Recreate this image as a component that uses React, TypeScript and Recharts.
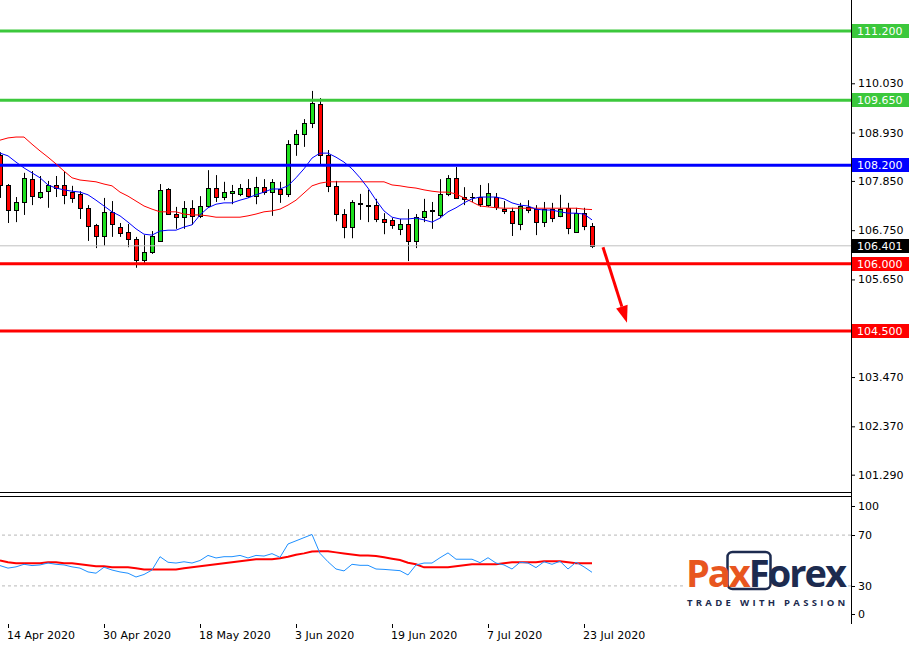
import React from "react";
import { Bar, ComposedChart, Line, ReferenceLine, XAxis, YAxis } from "recharts";

// daily bars, 13 Apr 2020 .. 24 Jul 2020
const dates = [
  "13 Apr", "14 Apr", "15 Apr", "16 Apr", "17 Apr", "20 Apr", "21 Apr", "22 Apr", "23 Apr", "24 Apr",
  "27 Apr", "28 Apr", "29 Apr", "30 Apr", "1 May", "4 May", "5 May", "6 May", "7 May", "8 May",
  "11 May", "12 May", "13 May", "14 May", "15 May", "18 May", "19 May", "20 May", "21 May", "22 May",
  "25 May", "26 May", "27 May", "28 May", "29 May", "1 Jun", "2 Jun", "3 Jun", "4 Jun", "5 Jun",
  "8 Jun", "9 Jun", "10 Jun", "11 Jun", "12 Jun", "15 Jun", "16 Jun", "17 Jun", "18 Jun", "19 Jun",
  "22 Jun", "23 Jun", "24 Jun", "25 Jun", "26 Jun", "29 Jun", "30 Jun", "1 Jul", "2 Jul", "3 Jul",
  "6 Jul", "7 Jul", "8 Jul", "9 Jul", "10 Jul", "13 Jul", "14 Jul", "15 Jul", "16 Jul", "17 Jul",
  "20 Jul", "21 Jul", "22 Jul", "23 Jul", "24 Jul",
];

const opens = [
  108.43, 107.76, 107.2, 107.38, 107.89, 107.49, 107.62, 107.76, 107.76, 107.6,
  107.56, 107.25, 106.87, 106.62, 107.16, 106.82, 106.71, 106.55, 106.08, 106.26,
  106.51, 107.67, 107.11, 107.04, 107.25, 107.07, 107.29, 107.69, 107.49, 107.58,
  107.56, 107.69, 107.51, 107.71, 107.6, 107.67, 107.56, 108.67, 108.9, 109.14,
  109.57, 108.43, 107.74, 107.11, 106.82, 107.33, 107.31, 107.31, 107.0, 106.98,
  106.78, 106.89, 106.51, 107.04, 107.18, 107.09, 107.56, 107.92, 107.49, 107.49,
  107.49, 107.31, 107.49, 107.22, 107.18, 106.89, 107.27, 107.22, 106.93, 107.22,
  107.07, 107.25, 106.71, 107.13, 106.84,
];
const highs = [
  108.49, 107.78, 107.49, 108.03, 108.07, 107.96, 107.85, 107.96, 108.05, 107.74,
  107.62, 107.31, 106.89, 107.47, 107.4, 106.91, 106.89, 106.6, 106.64, 106.73,
  107.78, 107.69, 107.27, 107.4, 107.42, 107.51, 108.09, 107.98, 107.83, 107.76,
  107.78, 107.89, 107.94, 107.89, 107.89, 107.83, 108.76, 108.99, 109.23, 109.86,
  109.7, 108.54, 107.85, 107.22, 107.42, 107.56, 107.65, 107.45, 107.13, 107.02,
  107.0, 107.22, 107.11, 107.45, 107.38, 107.89, 107.98, 108.16, 107.71, 107.58,
  107.76, 107.8, 107.58, 107.4, 107.25, 107.36, 107.42, 107.31, 107.38, 107.36,
  107.54, 107.36, 107.25, 107.25, 106.91,
];
const lows = [
  107.47, 106.91, 106.93, 107.09, 107.31, 107.45, 107.25, 107.49, 107.33, 107.36,
  107.0, 106.51, 106.35, 106.4, 106.6, 106.6, 106.37, 105.91, 105.99, 106.22,
  106.49, 107.09, 106.78, 106.78, 106.87, 107.02, 107.25, 107.38, 107.42, 107.33,
  107.51, 107.47, 107.33, 107.54, 107.07, 107.36, 107.49, 108.41, 108.61, 109.03,
  108.21, 107.6, 106.95, 106.57, 106.57, 106.98, 106.93, 106.93, 106.66, 106.78,
  106.64, 106.06, 106.35, 106.93, 106.78, 107.02, 107.51, 107.45, 107.31, 107.38,
  107.27, 107.27, 107.2, 107.11, 106.62, 106.75, 107.13, 106.64, 106.82, 106.93,
  107.04, 106.66, 106.69, 106.75, 106.35,
];
const closes = [
  107.76, 107.2, 107.38, 107.92, 107.51, 107.6, 107.76, 107.69, 107.54, 107.47,
  107.25, 106.84, 106.62, 107.16, 106.89, 106.69, 106.55, 106.08, 106.26, 106.62,
  107.65, 107.11, 107.04, 107.25, 107.07, 107.29, 107.69, 107.49, 107.6, 107.62,
  107.69, 107.51, 107.71, 107.6, 107.83, 107.56, 108.67, 108.9, 109.14, 109.59,
  108.43, 107.74, 107.11, 106.82, 107.38, 107.35, 107.3, 107.0, 106.93, 106.87,
  106.89, 106.51, 107.04, 107.18, 107.19, 107.56, 107.92, 107.47, 107.45, 107.5,
  107.33, 107.58, 107.27, 107.18, 106.91, 107.29, 107.2, 106.93, 107.22, 107.02,
  107.22, 106.8, 107.13, 106.84, 106.401,
];

// moving averages as drawn on the chart (blue fast, red slow)
const maFast = [
  108.47, 108.41, 108.27, 108.14, 108.03, 107.92, 107.76, 107.69, 107.65, 107.62,
  107.6, 107.54, 107.42, 107.29, 107.16, 107.07, 106.93, 106.78, 106.66, 106.64,
  106.73, 106.75, 106.75, 106.82, 106.87, 107.09, 107.25, 107.33, 107.36, 107.36,
  107.42, 107.47, 107.54, 107.6, 107.67, 107.67, 107.74, 107.92, 108.12, 108.36,
  108.47, 108.47, 108.38, 108.27, 108.12, 107.92, 107.69, 107.42, 107.18, 107.04,
  107.0, 107.0, 107.02, 106.98, 106.93, 107.02, 107.16, 107.25, 107.36, 107.45,
  107.49, 107.49, 107.49, 107.45, 107.36, 107.31, 107.29, 107.22, 107.2, 107.2,
  107.16, 107.13, 107.13, 107.11, 106.98,
];
const maSlow = [
  108.76, 108.81, 108.83, 108.83, 108.67, 108.52, 108.38, 108.23, 108.07, 107.92,
  107.87, 107.85, 107.83, 107.78, 107.74, 107.6, 107.51, 107.4, 107.29, 107.22,
  107.16, 107.16, 107.16, 107.11, 107.09, 107.09, 107.07, 107.04, 107.04, 107.04,
  107.04, 107.07, 107.11, 107.16, 107.18, 107.22, 107.31, 107.42, 107.58, 107.74,
  107.8, 107.83, 107.83, 107.83, 107.83, 107.83, 107.83, 107.83, 107.83, 107.76,
  107.74, 107.71, 107.69, 107.65, 107.62, 107.6, 107.6, 107.56, 107.47, 107.38,
  107.29, 107.27, 107.25, 107.24, 107.24, 107.24, 107.24, 107.24, 107.24, 107.24,
  107.24, 107.24, 107.24, 107.22, 107.21,
];

// oscillator panel
const rsi = [
  46, 44, 45, 47, 46, 46.5, 48, 47, 46.5, 45,
  44, 41, 40, 44.7, 42.5, 41, 40, 37, 39, 42.5,
  53, 48.6, 48, 49, 48, 50, 54, 52, 53, 53,
  54, 52, 54, 53.5, 55.4, 52.5, 63, 65.5, 68, 70.5,
  55.6, 49, 43.3, 41.8, 47, 46.2, 46.2, 43.3, 43, 42.5,
  42, 38.6, 46.5, 48, 48, 52.2, 56, 51, 51, 51,
  48.3, 52.2, 48, 46.5, 43.3, 48.6, 48, 44.4, 49, 47,
  49.4, 43.3, 48.6, 45, 40.7,
];
const rsiSignal = [
  50, 48.6, 47.8, 47.8, 47.8, 47.8, 48.6, 48.6, 47.8, 47.8,
  47, 46.2, 45.4, 45.4, 44.6, 44.6, 44.6, 43.9, 43, 43,
  43, 43, 43, 43.9, 44.6, 45.4, 46.2, 47, 47.8, 48.6,
  49.4, 50.2, 51, 51, 51, 51.7, 53, 54.6, 55.6, 57,
  57.2, 57.2, 56.4, 55.6, 54.8, 54, 54, 53.5, 52.5, 51.4,
  50.4, 48.3, 47, 44.6, 44.6, 44.6, 44.6, 45.4, 46.2, 47,
  47, 47, 47, 47.8, 48.6, 48.6, 48.6, 48.6, 49.4, 49.4,
  49.4, 48.6, 47.8, 47.8, 47.8,
];

const levels = [111.2, 109.65, 108.2, 106.0, 104.5];
const lastPrice = 106.401;
const arrowFrom = { k: 75.375, price: 106.37 };
const arrowTo = { k: 78.375, price: 104.68 };

const priceTicks = [101.29, 102.37, 103.47, 105.65, 106.75, 107.85, 108.93, 110.03];
const rsiTicks = [0, 30, 70, 100];
const dateTickIdx = [1, 13, 25, 37, 49, 61, 73];
const dateTickLabels = ["14 Apr 2020", "30 Apr 2020", "18 May 2020", "3 Jun 2020", "19 Jun 2020", "7 Jul 2020", "23 Jul 2020"];

const data = dates.map((d, k) => ({
  k,
  date: d,
  range: [lows[k], highs[k]],
  open: opens[k],
  close: closes[k],
  fast: maFast[k],
  slow: maSlow[k],
  rsi: rsi[k],
  signal: rsiSignal[k],
}));

const LEVEL_COLORS = ["#3cc83c", "#3cc83c", "#0000ff", "#ff0000", "#ff0000"];
const UP = "#1ee01e";
const DOWN = "#ff0000";
const FONT = "DejaVu Sans";
const X_DOMAIN: [number, number] = [0, 106.375];
const Y_DOMAIN: [number, number] = [100.881, 111.89];

const Candle = (props: any) => {
  const { x, y, width, height } = props;
  const p = props.payload || props;
  if (!p || !p.range) return null;
  const top = Math.min(y, y + height);
  const bot = Math.max(y, y + height);
  const [lo, hi] = p.range;
  const ppu = (bot - top) / (hi - lo);
  const py = (v: number) => top + (hi - v) * ppu;
  const c = Math.round(x + width / 2);
  const up = p.close >= p.open;
  const bTop = Math.round(Math.min(py(p.open), py(p.close)));
  const bBot = Math.round(Math.max(py(p.open), py(p.close)));
  return (
    <g>
      <line x1={c + 0.5} x2={c + 0.5} y1={top} y2={bot} stroke="#000" strokeWidth={1} />
      {bBot - bTop < 1 ? (
        <line x1={c - 2} x2={c + 3} y1={bTop + 0.5} y2={bTop + 0.5} stroke="#000" strokeWidth={1} />
      ) : (
        <rect x={c - 1.5} y={bTop + 0.5} width={4} height={bBot - bTop} fill={up ? UP : DOWN} stroke="#000" strokeWidth={1} />
      )}
    </g>
  );
};

const tag = (color: string, text: string) => (props: any) => {
  const vb = props.viewBox || {};
  const y = Math.round(vb.y);
  const x = Math.round(vb.x + vb.width) + 1;
  return (
    <g>
      <rect x={x} y={y - 7} width={57} height={14} fill={color} />
      <text x={x + 5} y={y + 4} fill="#fff" fontSize={11} fontFamily={FONT}>
        {text}
      </text>
    </g>
  );
};

const Arrow = (props: any) => {
  const { x1, y1, x2, y2 } = props;
  const dx = x2 - x1;
  const dy = y2 - y1;
  const len = Math.sqrt(dx * dx + dy * dy) || 1;
  const ux = dx / len;
  const uy = dy / len;
  const bx = x2 - ux * 17;
  const by = y2 - uy * 17;
  const w = 6;
  return (
    <g>
      <line x1={x1} y1={y1} x2={bx} y2={by} stroke="#ff0000" strokeWidth={3} />
      <polygon
        points={`${x2},${y2} ${bx - uy * w},${by + ux * w} ${bx + uy * w},${by - ux * w}`}
        fill="#ff0000"
      />
    </g>
  );
};

const PriceTick = (props: any) => {
  const { x, y, payload } = props;
  return (
    <g>
      <line x1={x} x2={x + 4} y1={y + 0.5} y2={y + 0.5} stroke="#000" />
      <text x={x + 7} y={y + 4} fontSize={11} fontFamily={FONT} fill="#000">
        {payload.value.toFixed(3)}
      </text>
    </g>
  );
};

const RsiTick = (props: any) => {
  const { x, y, payload } = props;
  const v = payload.value;
  const off = v === 100 ? 9 : v === 0 ? -10 : 0;
  const ty = Math.round(y + off);
  return (
    <g>
      <line x1={x} x2={x + 4} y1={ty + 0.5} y2={ty + 0.5} stroke="#000" />
      <text x={x + 7} y={ty + 4} fontSize={11} fontFamily={FONT} fill="#000">
        {v}
      </text>
    </g>
  );
};

const DateTick = (props: any) => {
  const { x, y, payload } = props;
  const i = dateTickIdx.indexOf(payload.value);
  const c = Math.round(x);
  return (
    <g>
      <line x1={c + 0.5} x2={c + 0.5} y1={y} y2={y + 4} stroke="#000" />
      <text x={c - 1} y={y + 15} fontSize={11} fontFamily={FONT} fill="#000">
        {dateTickLabels[i]}
      </text>
    </g>
  );
};

const Logo = () => (
  <svg width={912} height={647} style={{ position: "absolute", left: 0, top: 0, pointerEvents: "none" }}>
    <rect x={683} y={548} width={163} height={62} fill="#fff" />
    <rect x={727.5} y={552} width={43} height={37} rx={5} fill="none" stroke="#1d2b4f" strokeWidth={2.5} />
    <text x={686} y={587} fontFamily="Open Sans" fontWeight={700} fontSize={38} letterSpacing={-2}>
      <tspan fill="#e8561f">Pax</tspan>
      <tspan fill="#1d2b4f">Forex</tspan>
    </text>
    <text x={687} y={606} fontFamily="Open Sans" fontWeight={700} fontSize={9.5} letterSpacing={3.3} fill="#1d2b4f">
      TRADE WITH PASSION
    </text>
  </svg>
);

export default function App() {
  return (
    <div style={{ position: "absolute", left: 0, top: 0, width: 912, height: 647, background: "#fff", overflow: "hidden" }}>
      {/* price panel */}
      <div style={{ position: "absolute", left: 0, top: 0 }}>
        <ComposedChart width={912} height={493} data={data} margin={{ top: 0, right: 0, bottom: 0, left: 0 }}>
          <XAxis dataKey="k" type="number" domain={X_DOMAIN} allowDataOverflow hide />
          <YAxis
            orientation="right"
            width={61}
            type="number"
            domain={Y_DOMAIN}
            allowDataOverflow
            ticks={priceTicks}
            interval={0}
            axisLine={false}
            tickLine={false}
            tickSize={0}
            tickMargin={0}
            tick={<PriceTick />}
          />
          <ReferenceLine y={lastPrice} stroke="#c0c0c0" strokeWidth={1} label={tag("#000", lastPrice.toFixed(3))} />
          {levels.map((v, i) => (
            <ReferenceLine key={v} y={v} stroke={LEVEL_COLORS[i]} strokeWidth={3} label={tag(LEVEL_COLORS[i], v.toFixed(3))} />
          ))}
          <Bar dataKey="range" shape={<Candle />} activeBar={false} isAnimationActive={false} />
          <Line dataKey="slow" type="linear" stroke="#ff0000" strokeWidth={1} dot={false} activeDot={false} isAnimationActive={false} />
          <Line dataKey="fast" type="linear" stroke="#0000ff" strokeWidth={1} dot={false} activeDot={false} isAnimationActive={false} />
          <ReferenceLine
            segment={[
              { x: arrowFrom.k, y: arrowFrom.price },
              { x: arrowTo.k, y: arrowTo.price },
            ]}
            shape={Arrow}
          />
        </ComposedChart>
      </div>

      {/* oscillator panel */}
      <div style={{ position: "absolute", left: 0, top: 497 }}>
        <ComposedChart width={912} height={150} data={data} margin={{ top: 0, right: 0, bottom: 0, left: 0 }}>
          <XAxis
            dataKey="k"
            type="number"
            domain={X_DOMAIN}
            allowDataOverflow
            ticks={dateTickIdx}
            interval={0}
            height={23}
            axisLine={false}
            tickLine={false}
            tickSize={0}
            tickMargin={0}
            tick={<DateTick />}
          />
          <YAxis
            orientation="right"
            width={61}
            type="number"
            domain={[0, 100]}
            ticks={rsiTicks}
            interval={0}
            axisLine={false}
            tickLine={false}
            tickSize={0}
            tickMargin={0}
            tick={<RsiTick />}
          />
          <ReferenceLine y={70} stroke="#b8b8b8" strokeDasharray="3 3" />
          <ReferenceLine y={30} stroke="#b8b8b8" strokeDasharray="3 3" />
          <Line dataKey="signal" type="linear" stroke="#ff0000" strokeWidth={2} dot={false} activeDot={false} isAnimationActive={false} />
          <Line dataKey="rsi" type="linear" stroke="#1e90ff" strokeWidth={1} dot={false} activeDot={false} isAnimationActive={false} />
        </ComposedChart>
      </div>

      {/* panel frames */}
      <div style={{ position: "absolute", left: 851, top: 0, width: 1, height: 624, background: "#000" }} />
      <div style={{ position: "absolute", left: 0, top: 492, width: 852, height: 1, background: "#000" }} />
      <div style={{ position: "absolute", left: 0, top: 496, width: 852, height: 1, background: "#000" }} />

      <Logo />
    </div>
  );
}
